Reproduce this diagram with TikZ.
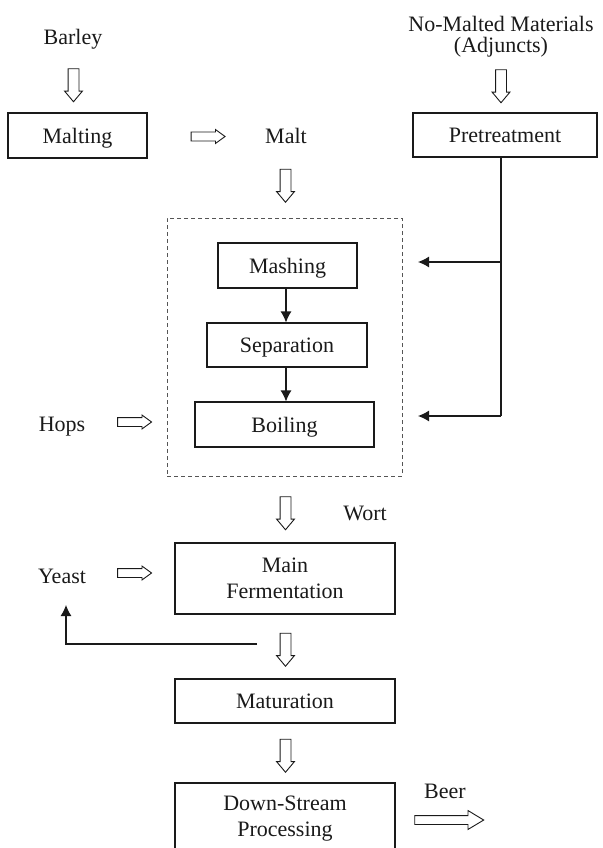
\documentclass[tikz,border=0pt]{standalone}
\usepackage{fontspec}
\setmainfont{Liberation Serif}
\usetikzlibrary{arrows.meta,shapes.arrows}
\definecolor{ink}{HTML}{1A1A1A}
\definecolor{dashgray}{HTML}{555555}
\tikzset{
  lbl/.style={font=\fontsize{22}{26}\selectfont, text=ink, inner sep=0pt, text height=15pt, text depth=0pt},
  mlbl/.style={font=\fontsize{22}{21}\selectfont, text=ink, inner sep=0pt, align=center},
  stepbox/.style={draw=ink, line width=1.1pt, font=\fontsize{22}{26}\selectfont, text=ink, inner sep=0pt, text height=15pt, text depth=0pt},
  mstepbox/.style={draw=ink, line width=1.1pt, font=\fontsize{22}{26}\selectfont, text=ink, inner sep=0pt, align=center},
  hollow/.style={single arrow, draw=ink, line width=0.9pt, fill=white, inner xsep=0pt, text height=0pt, text depth=0pt},
  hdown/.style={hollow, rotate=-90, minimum height=33pt, inner ysep=5pt, single arrow head extend=3.5pt, single arrow tip angle=80},
  hright/.style={hollow, minimum height=34pt, inner ysep=4pt, single arrow head extend=2.5pt, single arrow tip angle=72},
  hlong/.style={hollow, minimum height=69pt, inner ysep=4pt, single arrow head extend=5pt, single arrow tip angle=62},
  flow/.style={draw=ink, line width=1.1pt, -{Latex[length=11pt,width=11pt]}},
  group/.style={draw=dashgray, line width=1pt, dash pattern=on 4pt off 3pt, inner sep=0pt},
}
\begin{document}
\begin{tikzpicture}[x=1pt,y=-1pt]
\clip (0,0) rectangle (602,848);
\fill[white] (0,0) rectangle (602,848);

% top row
\node[lbl] (barley) at (73,37.5) {Barley};
\node[hdown] (a1) at (73.5,82) {};
\node[stepbox, minimum width=139pt, minimum height=45pt] (malting) at (77.5,135.5) {Malting};
\node[hright] (a2) at (205,136.5) {};
\node[lbl] (malt) at (286,135.5) {Malt};
\node[hdown] (a3) at (285.5,182.5) {};

\node[mlbl] (nomalt) at (501,37) {No-Malted Materials\\(Adjuncts)};
\node[hdown] (a4) at (501,83) {};
\node[stepbox, minimum width=184pt, minimum height=44pt] (pretreat) at (505,135) {Pretreatment};

% mashing group
\node[group, minimum width=235pt, minimum height=258pt] (grp) at (284.5,347) {};
\node[stepbox, minimum width=139pt, minimum height=45pt] (mashing) at (287.5,265.5) {Mashing};
\node[stepbox, minimum width=160pt, minimum height=44pt] (separation) at (287,345) {Separation};
\node[stepbox, minimum width=179pt, minimum height=45pt] (boiling) at (284.5,424.5) {Boiling};
\draw[flow] (286,288) coordinate (m1) -- (m1 |- separation.north);
\draw[flow] (286,367) coordinate (s1) -- (s1 |- boiling.north);

% adjunct feed
\coordinate (j1) at (501,262);
\coordinate (j2) at (501,416);
\coordinate (t1) at (418,262);
\coordinate (t2) at (418,416);
\draw[draw=ink, line width=1.1pt] (j1 |- pretreat.south) -- (j2);
\draw[flow] (j1) -- (t1);
\draw[flow] (j2) -- (t2);

\node[lbl] (hops) at (62,423.5) {Hops};
\node[hright] (a5) at (131.5,422) {};

% fermentation
\node[hdown] (a6) at (285.5,510) {};
\node[lbl] (wort) at (365,512.5) {Wort};
\node[mstepbox, minimum width=220pt, minimum height=71pt] (mainferm) at (285,578.5) {Main\\Fermentation};
\node[lbl] (yeast) at (62,575.5) {Yeast};
\node[hright] (a7) at (131.5,573) {};
\coordinate (r0) at (257,644);
\coordinate (r1) at (66,605);
\draw[flow] (r0) -| (r1);
\node[hdown] (a8) at (285.5,646.5) {};
\node[stepbox, minimum width=220pt, minimum height=44pt] (maturation) at (285,701) {Maturation};
\node[hdown] (a9) at (285.5,752.5) {};
\node[mstepbox, minimum width=220pt, minimum height=71pt] (downstream) at (285,818.5) {Down-Stream\\Processing};
\node[lbl] (beer) at (445,790.5) {Beer};
\node[hlong] (a10) at (445.5,820) {};
\end{tikzpicture}
\end{document}
